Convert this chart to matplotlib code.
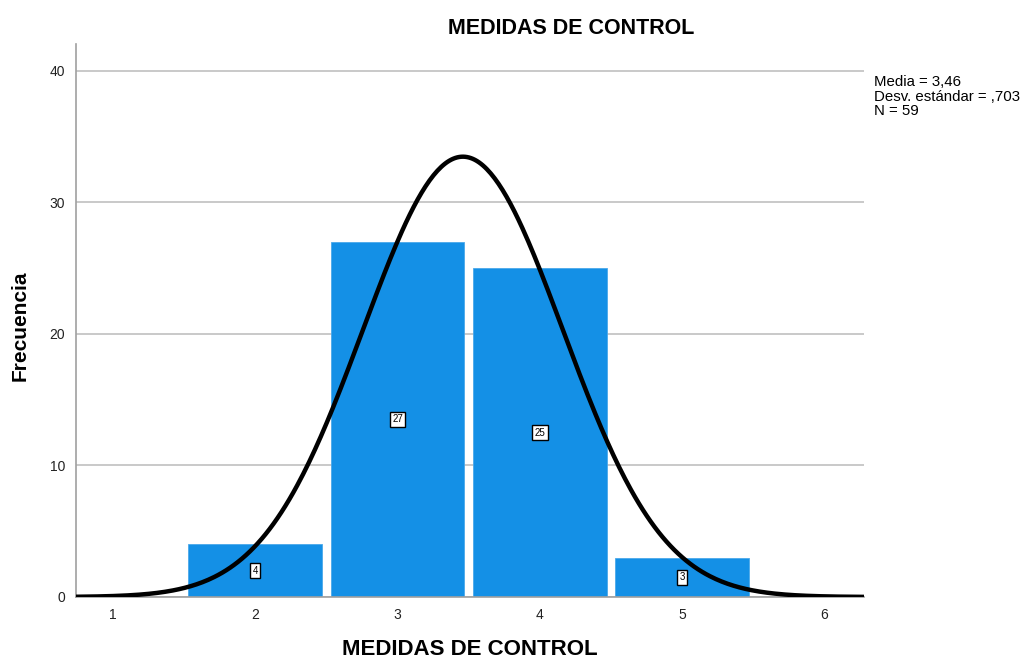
import numpy as np
import matplotlib
matplotlib.use("Agg")
import matplotlib.pyplot as plt

plt.rcParams['font.family'] = ['Liberation Sans', 'DejaVu Sans']

# datos
categorias = [2, 3, 4, 5]
frecuencias = [4, 27, 25, 3]
media = 3.46
desv = 0.703
n = 59
xticks = [1, 2, 3, 4, 5, 6]
yticks = [0, 10, 20, 30, 40]

fig = plt.figure(figsize=(10.24, 6.64), dpi=100)
ax = fig.add_axes([76/1024, 67/664, 788/1024, 553/664])

ax.bar(categorias, frecuencias, width=0.94, color='#1490E6',
       edgecolor='#4aa8ea', linewidth=0.6, zorder=2)

for c, f in zip(categorias, frecuencias):
    ax.text(c, f/2, str(f), fontsize=7, ha='center', va='center', zorder=4,
            bbox=dict(boxstyle='square,pad=0.25', fc='white', ec='black', lw=1))

# curva normal
xs = np.linspace(0.74, 6.28, 400)
ys = n * 1.0 / (desv*np.sqrt(2*np.pi)) * np.exp(-0.5*((xs-media)/desv)**2)
ax.plot(xs, ys, color='black', lw=3.2, zorder=3)

ax.set_xlim(0.74, 6.28)
ax.set_ylim(0, 42.05)
ax.set_xticks(xticks)
ax.set_yticks(yticks)
ax.tick_params(length=0, labelsize=10, colors='#222222', pad=8)
ax.yaxis.grid(True, color='#c0c0c0', lw=1.2, zorder=0)
ax.set_axisbelow(True)
for s in ['top', 'right']:
    ax.spines[s].set_visible(False)
ax.spines['left'].set_color('#a0a0a0')
ax.spines['bottom'].set_color('#a0a0a0')
ax.spines['left'].set_linewidth(1.2)
ax.spines['bottom'].set_linewidth(1.2)

ax.set_xlabel('MEDIDAS DE CONTROL', fontsize=16, fontweight='bold', labelpad=12)
fig.text(20/1024, 1 - 326/664, 'Frecuencia', fontsize=15, fontweight='bold',
         rotation=90, ha='center', va='center')
fig.text(571/1024, 1 - 28/664, 'MEDIDAS DE CONTROL', fontsize=15.5,
         fontweight='bold', ha='center', va='center')
fig.text(874/1024, 1 - 75/664,
         'Media = 3,46\nDesv. estándar = ,703\nN = 59',
         fontsize=10.8, ha='left', va='top', linespacing=1.05)

fig.savefig('out.png', dpi=100)
